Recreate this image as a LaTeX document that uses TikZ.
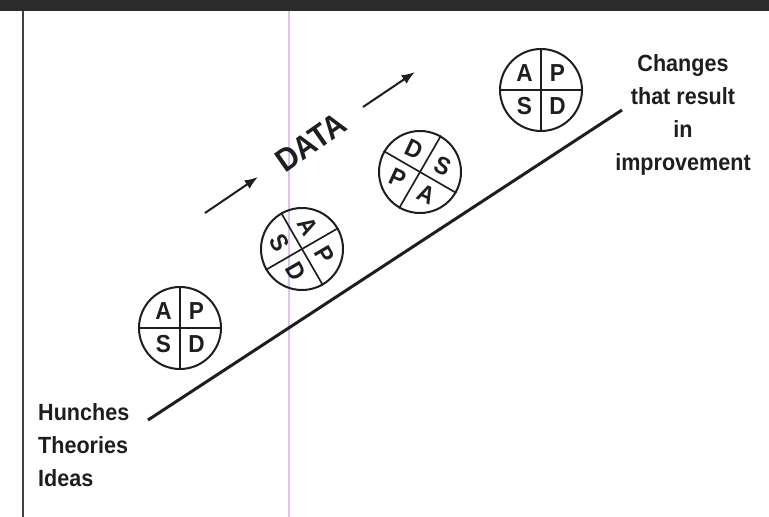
\documentclass[tikz,border=0pt]{standalone}
\usepackage{fontspec}
\newfontfamily\lblfont{Liberation Sans}[FakeStretch=0.92]
\usetikzlibrary{arrows.meta,calc}
\definecolor{ink}{HTML}{1E1E1E}
\definecolor{band}{HTML}{2B2B2B}
\definecolor{rule}{HTML}{DCC6E8}

\begin{document}
\begin{tikzpicture}[x=0.3mm,y=-0.3mm,>=Latex,
lbl/.style={font=\lblfont\bfseries\fontsize{20}{28.2}\selectfont,text=ink,inner sep=0pt},
datalbl/.style={font=\lblfont\bfseries\fontsize{27.5}{27.5}\selectfont,text=ink,inner sep=0pt},
ltr/.style={font=\lblfont\bfseries\fontsize{21}{21}\selectfont,text=ink,inner sep=0pt},
cyc/.style={draw=ink,circle,line width=0.6mm,minimum size=24.6mm,inner sep=0pt},
div/.style={draw=ink,line width=0.5mm},
arr/.style={->,line width=0.6mm,draw=ink,>={Latex[length=4mm,width=3mm]}}]
\useasboundingbox (0,0) rectangle (769,517);
% edges of the scanned page
\fill[band] (0,0) rectangle (769,11);
\draw[rule,line width=0.6mm] (289,11)--(289,517);
\draw[ink!85,line width=0.6mm] (23,11)--(23,517);

% PDSA wheels
\node[cyc] (c1) at (180,328) {};
\node[cyc] (c2) at (302,249) {};
\node[cyc] (c3) at (420,172) {};
\node[cyc] (c4) at (541,90) {};
\draw[div] (c1.north)--(c1.south);
\draw[div] (c1.west)--(c1.east);
\draw[div] (c2.30)--(c2.210);
\draw[div] (c2.120)--(c2.300);
\draw[div] (c3.60)--(c3.240);
\draw[div] (c3.150)--(c3.330);
\draw[div] (c4.north)--(c4.south);
\draw[div] (c4.west)--(c4.east);

\node[ltr] (c1a) at ($(c1)+(135:7mm)$) {A};
\node[ltr] (c1p) at ($(c1)+(45:7mm)$) {P};
\node[ltr] (c1s) at ($(c1)+(-135:7mm)$) {S};
\node[ltr] (c1d) at ($(c1)+(-45:7mm)$) {D};
\node[ltr,rotate=-60] (c2a) at ($(c2)+(75:7mm)$) {A};
\node[ltr,rotate=-60] (c2p) at ($(c2)+(-15:7mm)$) {P};
\node[ltr,rotate=-60] (c2s) at ($(c2)+(165:7mm)$) {S};
\node[ltr,rotate=-60] (c2d) at ($(c2)+(-105:7mm)$) {D};
\node[ltr,rotate=-25] (c3d) at ($(c3)+(105:7mm)$) {D};
\node[ltr,rotate=-25] (c3s) at ($(c3)+(15:7mm)$) {S};
\node[ltr,rotate=-25] (c3p) at ($(c3)+(195:7mm)$) {P};
\node[ltr,rotate=-25] (c3a) at ($(c3)+(-75:7mm)$) {A};
\node[ltr] (c4a) at ($(c4)+(135:7mm)$) {A};
\node[ltr] (c4p) at ($(c4)+(45:7mm)$) {P};
\node[ltr] (c4s) at ($(c4)+(-135:7mm)$) {S};
\node[ltr] (c4d) at ($(c4)+(-45:7mm)$) {D};

% labels
\node[lbl,align=left,anchor=north west] (hti) at (38,403) {Hunches\\Theories\\Ideas};
\node[lbl,align=center,anchor=north] (chg) at (683,54) {Changes\\that result\\in\\improvement};
\node[datalbl,rotate=35] (data) at (311,142) {DATA};

% improvement line and data arrows
\coordinate (lo) at (148,420);
\coordinate (hi) at (622,110);
\draw[ink,line width=0.9mm] (lo)--(hi);
\coordinate (a1s) at (205,213);
\coordinate (a1e) at (258,177);
\coordinate (a2s) at (363,107);
\coordinate (a2e) at (415,72);
\draw[arr] (a1s)--(a1e);
\draw[arr] (a2s)--(a2e);
\end{tikzpicture}
\end{document}
